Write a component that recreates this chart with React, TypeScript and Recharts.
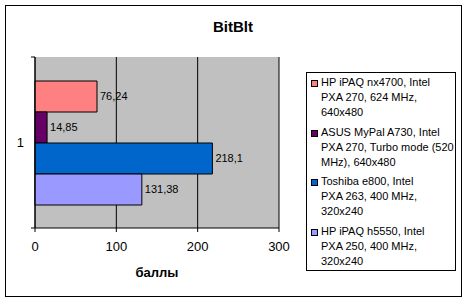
import React from 'react';
import {
  BarChart,
  Bar,
  XAxis,
  YAxis,
  CartesianGrid,
  LabelList,
} from 'recharts';

const categories = ['1'];
const seriesKeys = ['nx4700', 'a730', 'e800', 'h5550'];
const seriesNames = [
  'HP iPAQ nx4700, Intel\nPXA 270, 624 MHz,\n640x480',
  'ASUS MyPal A730, Intel\nPXA 270, Turbo mode (520\nMHz), 640x480',
  'Toshiba e800, Intel\nPXA 263, 400 MHz,\n320x240',
  'HP iPAQ h5550, Intel\nPXA 250, 400 MHz,\n320x240',
];
const seriesColors = ['#FF8080', '#660066', '#0066CC', '#9999FF'];
const nx4700Values = [76.24];
const a730Values = [14.85];
const e800Values = [218.1];
const h5550Values = [131.38];
const xTicks = [0, 100, 200, 300];

const seriesValues = [nx4700Values, a730Values, e800Values, h5550Values];

const data = categories.map((name, i) => {
  const row: Record<string, string | number> = { name };
  seriesKeys.forEach((key, s) => {
    row[key] = seriesValues[s][i];
  });
  return row;
});

const FONT = '"Liberation Sans", Arial, sans-serif';

const formatValue = (v: unknown) => String(v).replace('.', ',');

// category label plus Excel-style tick marks at the band edges
function CategoryTick(props: any) {
  const { x, y, payload } = props;
  const half = payload && typeof payload.offset === 'number' ? payload.offset : 85.5;
  return (
    <g>
      <line x1={x - 4} x2={x} y1={y - half} y2={y - half} stroke="#000" />
      <line x1={x - 4} x2={x} y1={y + half} y2={y + half} stroke="#000" />
      <text x={x - 11} y={y} textAnchor="end" dominantBaseline="central" fontSize={13} fill="#000" fontFamily={FONT}>
        {payload.value}
      </text>
    </g>
  );
}

export default function App() {
  return (
    <div
      style={{
        position: 'absolute',
        left: 0,
        top: 0,
        width: 466,
        height: 301,
        background: '#fff',
        fontFamily: FONT,
      }}
    >
      <div
        style={{
          position: 'absolute',
          left: 5,
          top: 5,
          width: 455,
          height: 290,
          border: '1px solid #000',
        }}
      />
      <div
        style={{
          position: 'absolute',
          left: 0,
          top: 19,
          width: 466,
          textAlign: 'center',
          fontSize: 15,
          lineHeight: '15px',
          fontWeight: 'bold',
        }}
      >
        BitBlt
      </div>

      <div style={{ position: 'absolute', left: 0, top: 0 }}>
        <BarChart
          width={466}
          height={301}
          data={data}
          layout="vertical"
          margin={{ top: 57, right: 187, left: 5, bottom: 28 }}
          barCategoryGap={24}
          barGap={0}
        >
          <CartesianGrid horizontal={false} stroke="#000" fill="#C0C0C0" />
          <XAxis
            type="number"
            domain={[0, 300]}
            ticks={xTicks}
            interval={0}
            height={45}
            tickSize={4}
            tickMargin={10}
            stroke="#000"
            axisLine={{ stroke: '#000' }}
            tickLine={{ stroke: '#000' }}
            tick={{ fontSize: 13, fill: '#000', fontFamily: FONT }}
          />
          <XAxis
            xAxisId="top"
            orientation="top"
            type="number"
            domain={[0, 300]}
            height={0}
            tick={false}
            tickLine={false}
            axisLine={{ stroke: '#808080' }}
          />
          <YAxis
            type="category"
            dataKey="name"
            width={30}
            tickSize={0}
            tickMargin={0}
            tickLine={false}
            axisLine={{ stroke: '#000' }}
            tick={<CategoryTick />}
          />
          <YAxis
            yAxisId="right"
            orientation="right"
            type="category"
            dataKey="name"
            width={0}
            tick={false}
            tickLine={false}
            axisLine={{ stroke: '#808080' }}
          />
          {seriesKeys.map((key, s) => (
            <Bar
              key={key}
              dataKey={key}
              name={seriesNames[s]}
              fill={seriesColors[s]}
              stroke="#000"
              strokeWidth={1}
              isAnimationActive={false}
            >
              <LabelList
                dataKey={key}
                position="right"
                offset={3}
                formatter={formatValue}
                style={{ fontSize: 11, fill: '#000', fontFamily: FONT }}
              />
            </Bar>
          ))}
        </BarChart>
      </div>

      <div
        style={{
          position: 'absolute',
          left: 35,
          top: 266,
          width: 244,
          textAlign: 'center',
          fontSize: 13,
          lineHeight: '13px',
          fontWeight: 'bold',
        }}
      >
        баллы
      </div>

      {/* Legend */}
      <div
        style={{
          position: 'absolute',
          left: 306,
          top: 72,
          width: 148,
          height: 195,
          border: '1px solid #000',
          paddingTop: 2,
          boxSizing: 'content-box',
        }}
      >
        {seriesNames.map((name, s) => (
          <div key={name} style={{ position: 'relative', marginBottom: 4.5, paddingLeft: 14 }}>
            <span
              style={{
                position: 'absolute',
                left: 4,
                top: 5,
                width: 5,
                height: 5,
                background: seriesColors[s],
                border: '1px solid #000',
              }}
            />
            <div style={{ fontSize: 11, lineHeight: '15px', whiteSpace: 'pre-line' }}>{name}</div>
          </div>
        ))}
      </div>
    </div>
  );
}
